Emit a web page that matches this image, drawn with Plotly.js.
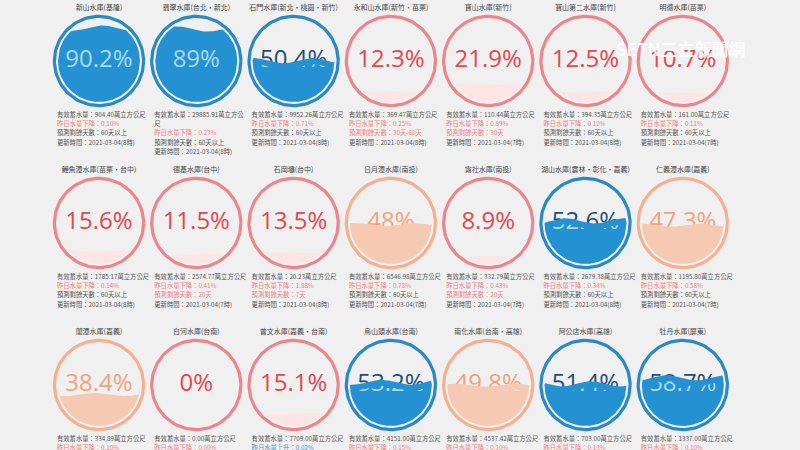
<!DOCTYPE html>
<html><head><meta charset="utf-8">
<script src="https://cdn.plot.ly/plotly-3.0.1.min.js"></script>
<style>html,body{margin:0;padding:0;background:#f0f0f0;}#chart{width:800px;height:450px;}</style>
</head><body><div id="chart"></div>
<script>
// ---- data ----
const names = ['新山水庫(基隆)','翡翠水庫(台北・新北)','石門水庫(新北・桃園・新竹)','永和山水庫(新竹・苗栗)','寶山水庫(新竹)','寶山第二水庫(新竹)','明德水庫(苗栗)',
  '鯉魚潭水庫(苗栗・台中)','德基水庫(台中)','石岡壩(台中)','日月潭水庫(南投)','霧社水庫(南投)','湖山水庫(雲林・彰化・嘉義)','仁義潭水庫(嘉義)',
  '蘭潭水庫(嘉義)','白河水庫(台南)','曾文水庫(嘉義・台南)','烏山頭水庫(台南)','南化水庫(台南・高雄)','阿公店水庫(高雄)','牡丹水庫(屏東)'];
const percents = [90.2, 89, 50.4, 12.3, 21.9, 12.5, 10.7, 15.6, 11.5, 13.5, 48, 8.9, 52.6, 47.3, 38.4, 0, 15.1, 53.2, 49.8, 51.4, 58.7];
const storage = ['904.40','29885.91','9952.26','369.47','110.44','394.35','161.00','1785.17','2574.77','20.23','6546.98','332.79','2679.38','1195.80','334.89','0.00','7709.00','4151.00','4537.42','703.00','1337.00'];
const change = ['0.10','0.23','0.71','0.25','0.89','0.10','0.11','0.14','0.41','1.88','0.78','0.43','0.34','0.58','0.10','0.00','0.02','0.15','0.10','0.13','0.10'];
const changeDir = ['下降','下降','下降','下降','下降','下降','下降','下降','下降','下降','下降','下降','下降','下降','下降','下降','上升','下降','下降','下降','下降'];
const remainDays = ['60天以上','60天以上','60天以上','30天-60天','30天','60天以上','60天以上','60天以上','20天','7天','60天以上','20天','60天以上','60天以上',null,null,null,null,null,null,null];
const updateHour = [8,8,8,8,7,8,7,8,7,8,7,7,8,7,null,null,null,null,null,null,null];
const updateDate = '2021-03-04';

// ---- layout constants (styling) ----
const COLS = 7, X0 = 99, DX = 97.3, Y0 = 61, DY = 162;
const R_RING = 44.6, R_WATER = 41;
const CJK = 'Noto Sans CJK TC';
const NUMF = 'Open Sans';

function palette(p){
  if(p >= 50) return {ring:'#2a88c7', fill:'#2391d2', text:'#1e4d78', inner:'#a9dcf6', amp:2.6};
  if(p >= 30) return {ring:'#f5b08f', fill:'#f6cab2', text:'#f2a27b', inner:'#fbe1d3', amp:1.6};
  return {ring:'#ea868c', fill:'#fde5e5', text:'#e1474f', inner:'#e1474f', amp:0.8};
}
function circle(cx, cy, r){
  const x=[], y=[];
  for(let k=0;k<=120;k++){const t=2*Math.PI*k/120; x.push(cx+r*Math.cos(t)); y.push(cy+r*Math.sin(t));}
  return {x, y};
}
function waterPoly(cx, cy, Ri, p, amp, phase){
  const level = cy + Ri - (p/100)*2*Ri;
  const xs=[], ys=[], bx=[], by=[];
  const N=100;
  for(let k=0;k<=N;k++){
    const x = cx - Ri + 2*Ri*k/N;
    const dx = x - cx;
    const h = Math.sqrt(Math.max(0, Ri*Ri - dx*dx));
    const top = cy - h, bot = cy + h;
    const yw = level + amp*Math.sin(2*Math.PI*1.4*k/N + phase);
    xs.push(x); ys.push(Math.min(Math.max(yw, top), bot));
    bx.push(x); by.push(bot);
  }
  return {x: xs.concat(bx.reverse()), y: ys.concat(by.reverse())};
}

const data = [];
const clipPairs = [];
const titleX=[], titleY=[], titleT=[];
const infoX=[], infoY=[], infoT=[], infoC=[];
const GRAY='#555555', RED='#ee7d83', BLUE='#4a8fc9';

percents.forEach((p, i) => {
  const cx = X0 + DX*(i % COLS), cy = Y0 + DY*Math.floor(i / COLS);
  const pal = palette(p);
  const ring = circle(cx, cy, R_RING);
  data.push({type:'scatter', mode:'lines', x:ring.x, y:ring.y, line:{color:pal.ring, width:3.2}, hoverinfo:'skip', cliponaxis:false});
  const label = String(p) + '%';
  data.push({type:'scatter', mode:'text', x:[cx], y:[cy], text:[label], textposition:'middle center',
    textfont:{family:NUMF, size:24, color:pal.text}, hoverinfo:'skip', cliponaxis:false});
  const w = waterPoly(cx, cy, R_WATER, p, pal.amp, (i*2.3) % (2*Math.PI));
  const fillIdx = data.length;
  data.push({type:'scatter', mode:'lines', x:w.x, y:w.y, fill:'toself', fillcolor:pal.fill, line:{width:0, color:pal.fill}, hoverinfo:'skip', cliponaxis:false});
  const textIdx = data.length;
  data.push({type:'scatter', mode:'text', x:[cx], y:[cy], text:[label], textposition:'middle center',
    textfont:{family:NUMF, size:24, color:pal.inner}, hoverinfo:'skip', cliponaxis:false});
  clipPairs.push([fillIdx, textIdx]);

  titleX.push(cx); titleY.push(cy - 52.5); titleT.push(names[i]);

  const lines = [];
  let l1 = '有效蓄水量：' + storage[i] + '萬立方公尺';
  if(l1.length > 18){ lines.push([l1.slice(0,-1), GRAY]); lines.push([l1.slice(-1), GRAY]); }
  else lines.push([l1, GRAY]);
  lines.push(['昨日水量' + changeDir[i] + '：' + change[i] + '%', changeDir[i]==='上升' ? BLUE : RED]);
  if(remainDays[i]) lines.push(['預測剩餘天數：' + remainDays[i], remainDays[i]==='60天以上' ? GRAY : RED]);
  if(updateHour[i] != null) lines.push(['更新時間：' + updateDate + '(' + updateHour[i] + '時)', GRAY]);
  lines.forEach((ln, k) => {
    infoX.push(cx - 42); infoY.push(cy + 54 + k*9.4); infoT.push(ln[0]); infoC.push(ln[1]);
  });
});

data.push({type:'scatter', mode:'text', x:titleX, y:titleY, text:titleT, textposition:'middle center',
  textfont:{family:CJK, size:7, color:'#444444'}, hoverinfo:'skip', cliponaxis:false});
data.push({type:'scatter', mode:'text', x:infoX, y:infoY, text:infoT, textposition:'middle right',
  textfont:{family:CJK, size:6.3, color:infoC}, hoverinfo:'skip', cliponaxis:false});

const layout = {
  width:800, height:450, margin:{l:0,r:0,t:0,b:0},
  paper_bgcolor:'#f0f0f0', plot_bgcolor:'#f0f0f0', showlegend:false,
  xaxis:{range:[0,800], visible:false, fixedrange:true},
  yaxis:{range:[450,0], visible:false, fixedrange:true},
  annotations:[{x:680, y:48, xref:'x', yref:'y', showarrow:false, text:'<b>SETN三立新聞網</b>',
    font:{family:CJK, size:17, color:'rgba(255,255,255,0.85)'}}]
};

const gd = document.getElementById('chart');
Plotly.newPlot(gd, data, layout, {staticPlot:true, displayModeBar:false}).then(() => {
  const ns = 'http://www.w3.org/2000/svg';
  const svg = gd.querySelector('svg.main-svg');
  let defs = svg.querySelector('defs');
  if(!defs){ defs = document.createElementNS(ns,'defs'); svg.insertBefore(defs, svg.firstChild); }
  const traces = gd.querySelectorAll('.scatterlayer .trace');
  clipPairs.forEach(([fi, ti], k) => {
    const fp = traces[fi] && traces[fi].querySelector('path.js-fill');
    if(!fp) return;
    const cp = document.createElementNS(ns,'clipPath');
    cp.setAttribute('id','waterclip'+k);
    const pth = document.createElementNS(ns,'path');
    pth.setAttribute('d', fp.getAttribute('d'));
    cp.appendChild(pth); defs.appendChild(cp);
    traces[ti].querySelectorAll('.textpoint').forEach(tp => tp.setAttribute('clip-path','url(#waterclip'+k+')'));
  });
});
</script>
</body></html>
